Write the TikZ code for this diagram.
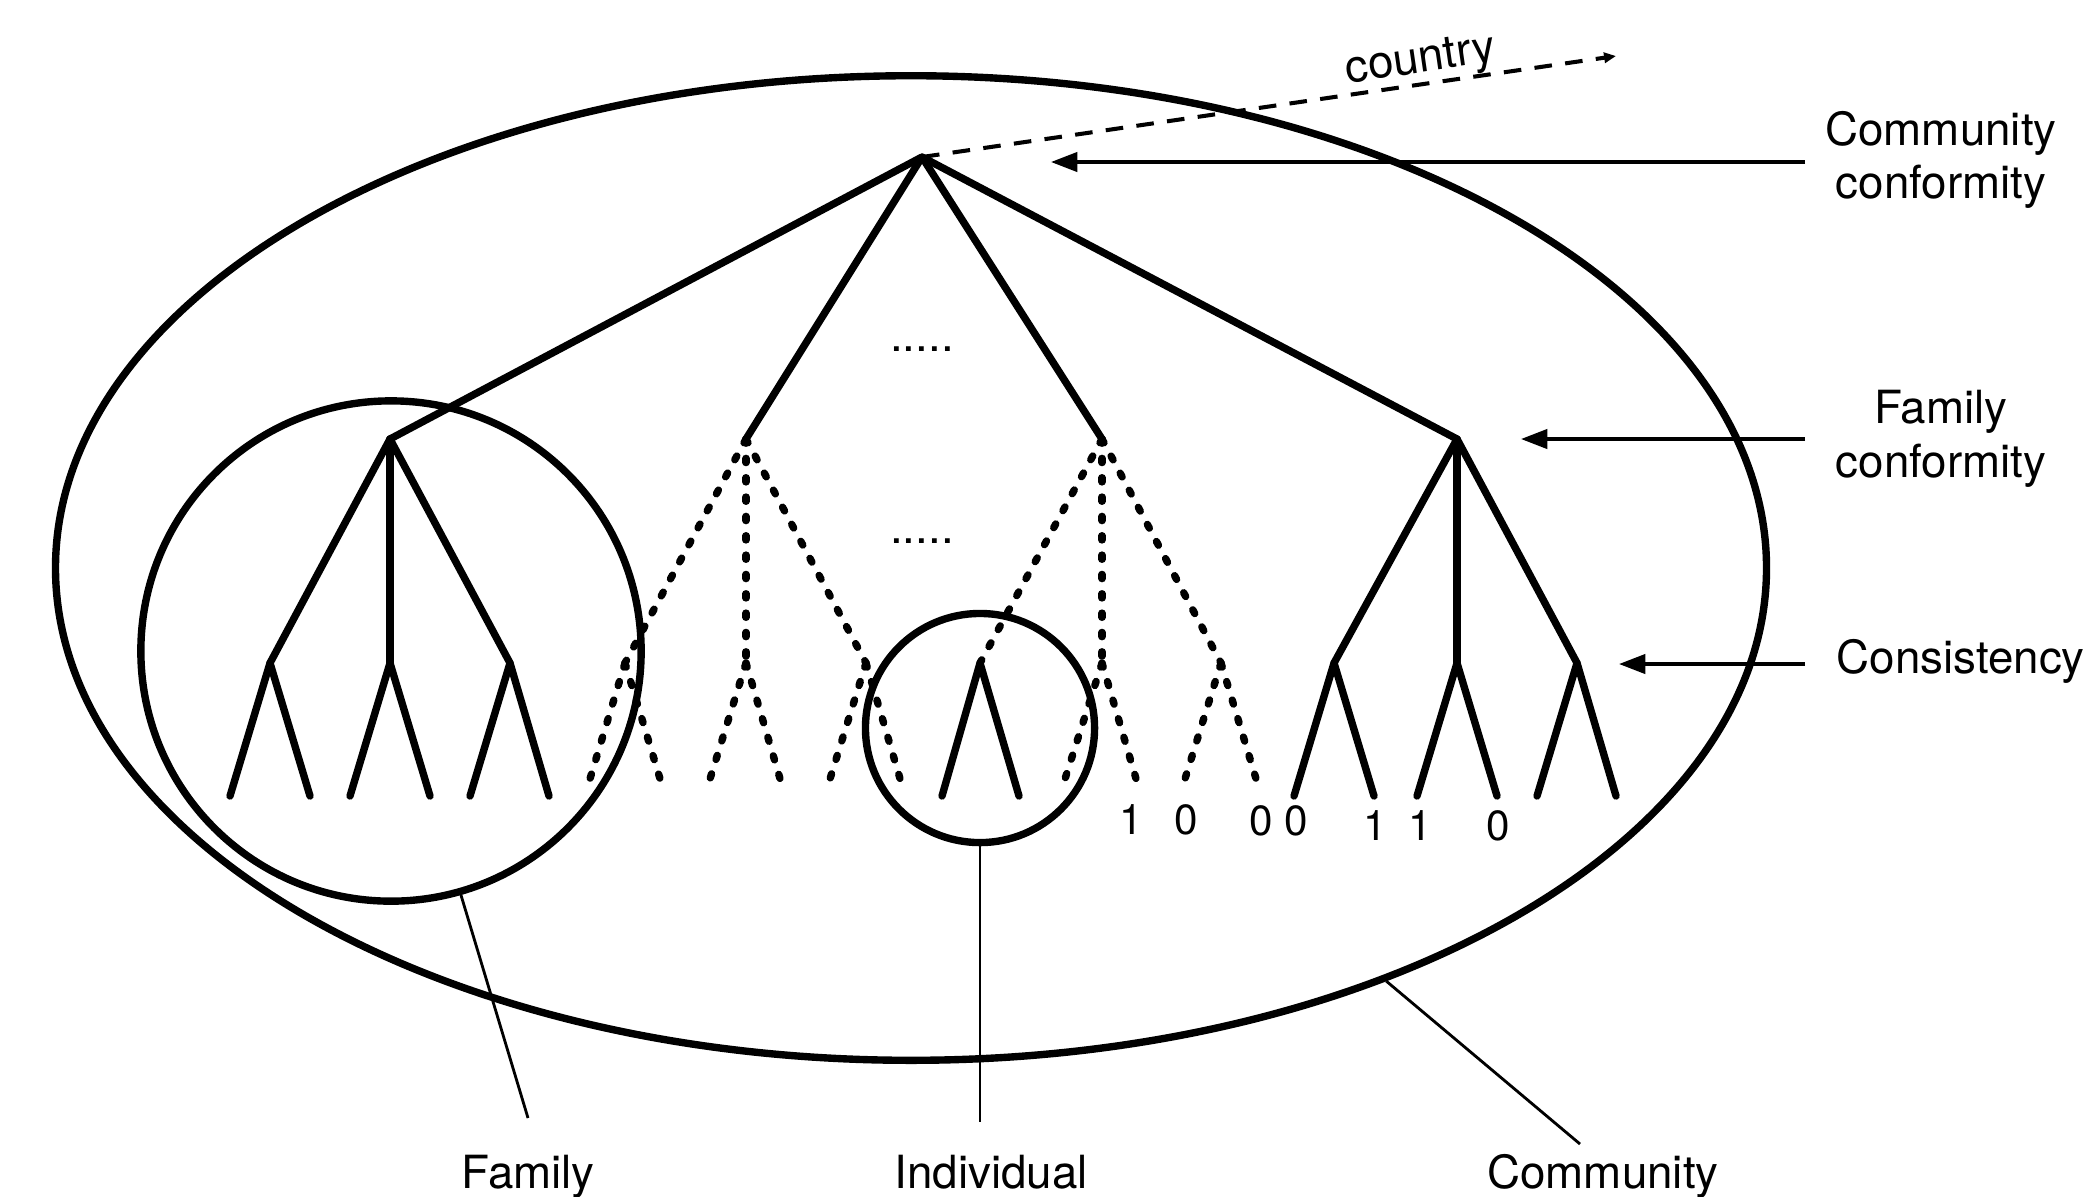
\documentclass[tikz,border=0pt]{standalone}
\usepackage{fontspec}
\setmainfont{TeX Gyre Heros}
\usetikzlibrary{arrows.meta,shapes.geometric}
\begin{document}
\begin{tikzpicture}[x=0.01cm,y=-0.01cm,
  thickline/.style={line width=2.1pt,line cap=round,line join=round},
  dotline/.style={line width=2.1pt,line cap=round,dash pattern=on 1.2pt off 4.3pt},
  ring/.style={draw,line width=2.1pt,inner sep=0pt},
  ptr/.style={line width=0.95pt,-{Triangle[length=7.5pt,width=5.5pt]}},
  cptr/.style={line width=1.15pt,dash pattern=on 5pt off 3.8pt,-{Triangle[length=3.4pt,width=2.9pt]}},
  lead/.style={line width=0.8pt},
  lbl/.style={font=\fontsize{13}{15.2}\selectfont,align=center,inner sep=0pt},
  num/.style={font=\fontsize{12}{14}\selectfont,inner sep=0pt}]
\useasboundingbox (0,0) rectangle (2086,1196);

% enclosing shapes
\node[ring,ellipse,minimum width=17.10cm,minimum height=9.84cm] (comm) at (911,568) {};
\node[ring,circle,minimum size=5.0cm] (fam) at (391,651) {};
\node[ring,circle,minimum size=2.29cm] (ind) at (980,728) {};

% tree points
\coordinate (root) at (922,157);
\coordinate (A) at (390,439);
\coordinate (B) at (746,439);
\coordinate (C) at (1102,439);
\coordinate (D) at (1457,439);
% family A
\coordinate (A1) at (270,663); \coordinate (A2) at (390,663); \coordinate (A3) at (510,663);
\coordinate (A1a) at (230,796); \coordinate (A1b) at (310,796);
\coordinate (A2a) at (350,796); \coordinate (A2b) at (430,796);
\coordinate (A3a) at (470,796); \coordinate (A3b) at (549,796);
% family D
\coordinate (D1) at (1334,663); \coordinate (D2) at (1457,663); \coordinate (D3) at (1577,663);
\coordinate (D1a) at (1294,796); \coordinate (D1b) at (1374,796);
\coordinate (D2a) at (1417,796); \coordinate (D2b) at (1497,796);
\coordinate (D3a) at (1537,796); \coordinate (D3b) at (1616,796);
% family B (dotted)
\coordinate (B1) at (625,663); \coordinate (B2) at (746,663); \coordinate (B3) at (866,663);
\coordinate (B1a) at (589,782); \coordinate (B1b) at (661,782);
\coordinate (B2a) at (709,782); \coordinate (B2b) at (781,782);
\coordinate (B3a) at (829,782); \coordinate (B3b) at (901,782);
% family C
\coordinate (C1) at (980,663); \coordinate (C2) at (1102,663); \coordinate (C3) at (1221,663);
\coordinate (C1a) at (942,796); \coordinate (C1b) at (1019,796);
\coordinate (C2a) at (1064,782); \coordinate (C2b) at (1137,782);
\coordinate (C3a) at (1184,782); \coordinate (C3b) at (1257,782);

% solid edges
\draw[thickline] (A) -- (root) -- (D);
\draw[thickline] (B) -- (root) -- (C);
\draw[thickline] (A1) -- (A) -- (A3); \draw[thickline] (A) -- (A2);
\draw[thickline] (A1a) -- (A1) -- (A1b);
\draw[thickline] (A2a) -- (A2) -- (A2b);
\draw[thickline] (A3a) -- (A3) -- (A3b);
\draw[thickline] (D1) -- (D) -- (D3); \draw[thickline] (D) -- (D2);
\draw[thickline] (D1a) -- (D1) -- (D1b);
\draw[thickline] (D2a) -- (D2) -- (D2b);
\draw[thickline] (D3a) -- (D3) -- (D3b);
\draw[thickline] (C1a) -- (C1) -- (C1b);

% dotted edges
\foreach \p in {B1,B2,B3} \draw[dotline] (B) -- (\p);
\foreach \p in {C1,C2,C3} \draw[dotline] (C) -- (\p);
\foreach \p/\q in {B1/B1a,B1/B1b,B2/B2a,B2/B2b,B3/B3a,B3/B3b,C2/C2a,C2/C2b,C3/C3a,C3/C3b}
  \draw[dotline] (\p) -- (\q);

% ellipsis dots
\node[lbl] (dots1) at (922,349) {.....};
\node[lbl] (dots2) at (922,541) {.....};

% leaf values
\node[num] (v1) at (1131,820) {1};
\node[num] (v2) at (1186,820) {0};
\node[num] (v3) at (1261,821) {0};
\node[num] (v4) at (1296,821) {0};
\node[num] (v5) at (1375,826) {1};
\node[num] (v6) at (1420,826) {1};
\node[num] (v7) at (1498,826) {0};

% country
\coordinate (ctip) at (1616,56);
\draw[cptr] (root) -- (ctip);
\node[lbl,rotate=8.3] (country) at (1421,62) {country};

% right labels and arrows
\node[lbl] (cc) at (1941,160) {Community\\conformity};
\node[lbl] (fc) at (1941,439) {Family\\conformity};
\node[lbl,anchor=west] (cons) at (1836,661) {Consistency};
\coordinate (ccfrom) at (1805,162); \coordinate (cctip) at (1051,162);
\coordinate (fcfrom) at (1805,439); \coordinate (fctip) at (1521,439);
\coordinate (cofrom) at (1805,664); \coordinate (cotip) at (1619,664);
\draw[ptr] (ccfrom) -- (cctip);
\draw[ptr] (fcfrom) -- (fctip);
\draw[ptr] (cofrom) -- (cotip);

% bottom labels
\node[lbl,anchor=base] (famlbl) at (528,1188) {Family};
\node[lbl,anchor=base] (indlbl) at (991,1188) {Individual};
\node[lbl,anchor=base] (comlbl) at (1603,1188) {Community};
\coordinate (famend) at (528,1118);
\coordinate (indend) at (980,1122);
\coordinate (comend) at (1580,1144);
\draw[lead] (fam.-74) -- (famend);
\draw[lead] (ind.south) -- (indend);
\draw[lead] (comm.-41) -- (comend);
\end{tikzpicture}
\end{document}
